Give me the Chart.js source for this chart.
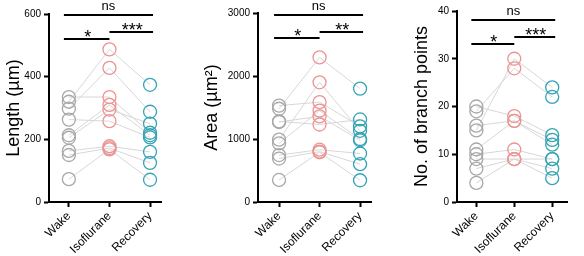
<!DOCTYPE html>
<html>
<head>
<meta charset="utf-8">
<script src="https://cdn.jsdelivr.net/npm/chart.js@4.4.1/dist/chart.umd.min.js"></script>
<style>
  body { margin: 0; background: #fff; }
  #wrap { position: relative; width: 584px; height: 256px; }
  canvas { position: absolute; top: 0; }
</style>
</head>
<body>
<div id="wrap">
  <canvas id="cLength" width="195" height="256" style="left:0px"></canvas>
  <canvas id="cArea" width="195" height="256" style="left:195px"></canvas>
  <canvas id="cBranch" width="194" height="256" style="left:390px"></canvas>
</div>
<script>
// groups on the x axis
var groups = ['Wake', 'Isoflurane', 'Recovery'];

// one value per animal, same index = same animal
var lengthWake = [335, 320, 298, 263, 213, 205, 163, 150, 73];
var lengthIso  = [335, 487, 428, 258, 310, 295, 178, 172, 168];
var lengthRec  = [221, 374, 288, 206, 213, 250, 160, 125, 71];
var lengthTicks = [0, 200, 400, 600];

var areaWake = [1530, 1480, 1280, 1270, 990, 930, 745, 690, 350];
var areaIso  = [1585, 2295, 1230, 1360, 1900, 1450, 830, 800, 790];
var areaRec  = [1200, 1800, 1310, 980, 1130, 1000, 770, 600, 345];
var areaTicks = [0, 1000, 2000, 3000];

var branchWake = [20, 19, 16, 15, 11, 10, 9, 7, 4];
var branchIso  = [18, 28, 17, 30, 17, 11, 9, 9, 9];
var branchRec  = [14, 22, 13, 24, 12, 9, 9, 7, 5];
var branchTicks = [0, 10, 20, 30, 40];

// significance: label, from group, to group
var lengthSig = [['ns', 0, 2], ['*', 0, 1], ['***', 1, 2]];
var areaSig   = [['ns', 0, 2], ['*', 0, 1], ['**', 1, 2]];
var branchSig = [['ns', 0, 2], ['*', 0, 1], ['***', 1, 2]];

var colWake = 'rgb(168,168,168)';
var colIso  = 'rgb(236,148,148)';
var colRec  = 'rgb(52,164,180)';
var colPair = 'rgb(215,215,215)';
var fontFam = "'Liberation Sans', Arial, sans-serif";

var bracketPlugin = {
	id: 'brackets',
	afterDraw: function(chart){
		var o = chart.options.plugins.brackets;
		if (!o || !o.items) { return; }
		var ctx = chart.ctx;
		var xs = chart.scales.x;
		ctx.save();
		ctx.strokeStyle = '#000';
		ctx.fillStyle = '#000';
		ctx.lineWidth = 2;
		ctx.textAlign = 'center';
		o.items.forEach(function(it, i){
			var y = o.ys[i];
			var x1 = xs.getPixelForValue(it[1]);
			var x2 = xs.getPixelForValue(it[2]);
			if (it[1] === 0) { x1 -= 5; }
			if (it[2] === 2) { x2 += 3; }
			ctx.beginPath();
			ctx.moveTo(x1, y);
			ctx.lineTo(x2, y);
			ctx.stroke();
			ctx.textBaseline = 'alphabetic';
			if (it[0] === 'ns') {
				ctx.font = '13px ' + fontFam;
				ctx.fillText(it[0], (x1 + x2) / 2, y - 5);
			} else {
				ctx.font = '18px ' + fontFam;
				ctx.fillText(it[0], (x1 + x2) / 2 + 1, y + 4);
			}
		});
		ctx.restore();
	}
};

function init_panel(id, p){

	if( typeof (Chart) === 'undefined'){ return; }

	var datasets = [];
	var vals = [p.wake, p.iso, p.rec];
	var cols = [colWake, colIso, colRec];

	// points per group
	for (var g = 0; g < 3; g++){
		datasets.push({
			type: 'scatter',
			data: vals[g].map(function(v){ return {x: g, y: v}; }),
			pointRadius: 6.5,
			pointBorderWidth: 1.3,
			pointBorderColor: cols[g],
			pointBackgroundColor: 'rgba(0,0,0,0)',
			order: 1
		});
	}
	// paired lines per animal
	for (var i = 0; i < p.wake.length; i++){
		datasets.push({
			type: 'line',
			data: [{x: 0, y: p.wake[i]}, {x: 1, y: p.iso[i]}, {x: 2, y: p.rec[i]}],
			borderColor: colPair,
			borderWidth: 1,
			pointRadius: 0,
			fill: false,
			order: 2
		});
	}

	var ticks = p.ticks;

	new Chart(document.getElementById(id), {
		type: 'scatter',
		data: { datasets: datasets },
		plugins: [bracketPlugin],
		options: {
			responsive: false,
			animation: false,
			events: [],
			layout: { padding: { left: 0, right: p.padRight, top: p.top, bottom: 0 } },
			plugins: {
				legend: { display: false },
				tooltip: { enabled: false },
				brackets: { items: p.sig, ys: p.sigY }
			},
			scales: {
				x: {
					type: 'linear',
					min: p.xMin,
					max: p.xMax,
					afterBuildTicks: function(axis){
						axis.ticks = groups.map(function(g, k){ return {value: k}; });
					},
					afterFit: function(axis){ axis.height = 54; },
					border: { display: true, color: '#000', width: 2 },
					grid: { display: true, drawOnChartArea: false, tickLength: 5, tickWidth: 2, tickColor: '#000' },
					ticks: {
						color: '#000',
						font: { size: 12, family: fontFam },
						maxRotation: 45,
						minRotation: 45,
						padding: 2,
						callback: function(v){ return groups[v]; }
					}
				},
				y: {
					min: ticks[0],
					max: ticks[ticks.length - 1],
					afterBuildTicks: function(axis){
						axis.ticks = ticks.map(function(v){ return {value: v}; });
					},
					afterFit: function(axis){ axis.width = p.axisW; },
					border: { display: true, color: '#000', width: 2 },
					grid: { display: true, drawOnChartArea: false, tickLength: 5, tickWidth: 2, tickColor: '#000' },
					ticks: {
						color: '#000',
						font: { size: 10, family: fontFam },
						padding: 3,
						callback: function(v){ return String(v); }
					},
					title: {
						display: true,
						text: p.title,
						color: '#000',
						font: { size: 18, family: fontFam },
						padding: { top: p.titlePad, bottom: 0 }
					}
				}
			}
		}
	});
}

init_panel('cLength', {
	wake: lengthWake, iso: lengthIso, rec: lengthRec, ticks: lengthTicks, sig: lengthSig,
	title: 'Length (\u00B5m)', axisW: 49, padRight: 34, top: 14,
	xMin: -0.49, xMax: 2.27, titlePad: 3, sigY: [15, 39, 32]
});

init_panel('cArea', {
	wake: areaWake, iso: areaIso, rec: areaRec, ticks: areaTicks, sig: areaSig,
	title: 'Area (\u00B5m\u00B2)', axisW: 63, padRight: 19, top: 13,
	xMin: -0.52, xMax: 2.27, titlePad: 6, sigY: [15, 38, 32]
});

init_panel('cBranch', {
	wake: branchWake, iso: branchIso, rec: branchRec, ticks: branchTicks, sig: branchSig,
	title: 'No. of branch points', axisW: 67, padRight: 17, top: 11,
	xMin: -0.51, xMax: 2.39, titlePad: 21, sigY: [20, 44, 37]
});
</script>
</body>
</html>
